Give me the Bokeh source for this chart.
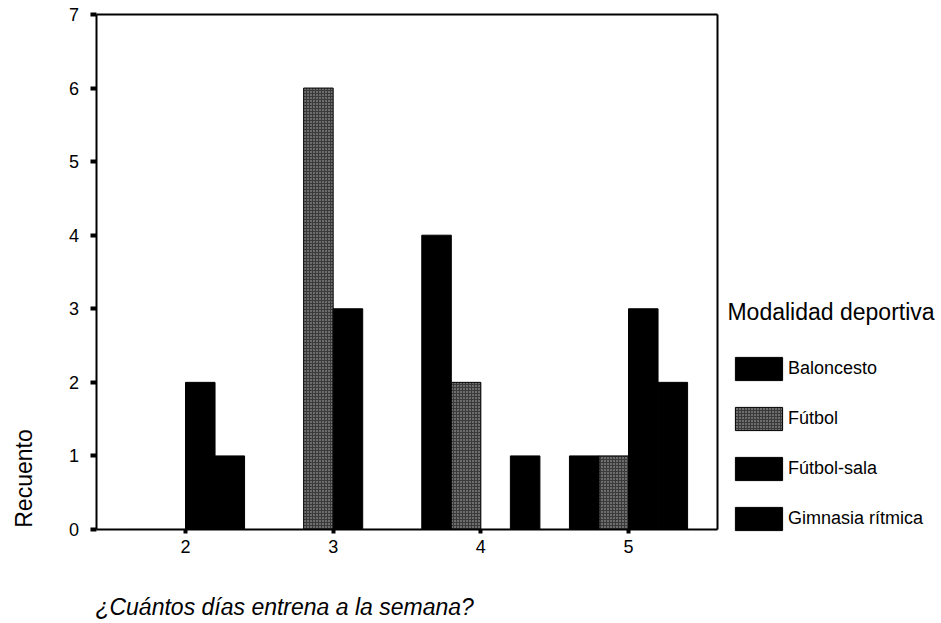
from bokeh.plotting import figure
from bokeh.models import (ColumnDataSource, Range1d, FixedTicker, Legend, LegendItem, Label,
                          LinearAxis)
from bokeh.transform import dodge
from bokeh.embed import file_html
from bokeh.resources import INLINE
import math

# ---- data ----
dias = [2, 3, 4, 5]
baloncesto = [0, 0, 4, 1]
futbol = [0, 6, 2, 1]
futbol_sala = [2, 3, 0, 3]
gimnasia = [1, 0, 1, 2]
series_names = ["Baloncesto", "Fútbol", "Fútbol-sala", "Gimnasia rítmica"]
y_ticks = [0, 1, 2, 3, 4, 5, 6, 7]

FONT = "Liberation Sans"

# plotting-area bounds (data units)
X0, X1 = 1.4, 5.6
Y0, Y1 = 0, 7

src = ColumnDataSource(dict(dias=dias, baloncesto=baloncesto, futbol=futbol,
                            futbol_sala=futbol_sala, gimnasia=gimnasia))

p = figure(width=941, height=623, x_range=Range1d(0.7472, 7.1195), y_range=Range1d(-1.2777, 7.190),
           x_axis_type=None, y_axis_type=None,
           output_backend="svg", toolbar_location=None,
           min_border_left=0, min_border_right=0, min_border_top=0, min_border_bottom=0)

p.xgrid.visible = False
p.ygrid.visible = False
p.outline_line_color = None
p.background_fill_color = "white"
p.border_fill_color = "white"

cols = ["baloncesto", "futbol", "futbol_sala", "gimnasia"]
offsets = [-0.3, -0.1, 0.1, 0.3]
renderers = []
for col, off in zip(cols, offsets):
    kw = dict(fill_color="black", line_color="black", line_width=1)
    if col == "futbol":
        kw = dict(fill_color="#3a3a3a", line_color="black", line_width=1,
                  hatch_pattern="dot", hatch_color="#b8b8b8", hatch_scale=3, hatch_weight=1)
    r = p.vbar(x=dodge("dias", off), top=col, width=0.2, bottom=0, source=src, **kw)
    renderers.append(r)


def style_axis(ax):
    ax.axis_line_color = "black"
    ax.axis_line_width = 2
    ax.major_tick_line_color = "black"
    ax.major_tick_line_width = 4
    ax.major_tick_in = 0
    ax.minor_tick_line_color = None
    ax.major_label_text_font = FONT
    ax.major_label_text_font_size = "18px"
    ax.major_label_text_color = "black"


xaxis = LinearAxis(fixed_location=Y0, bounds=(X0, X1), ticker=FixedTicker(ticks=dias))
style_axis(xaxis)
xaxis.major_tick_out = 4
xaxis.major_label_standoff = 7
p.add_layout(xaxis, "below")

yaxis = LinearAxis(fixed_location=X0, bounds=(Y0, Y1), ticker=FixedTicker(ticks=y_ticks))
style_axis(yaxis)
yaxis.major_tick_out = 6
yaxis.major_label_standoff = 12
p.add_layout(yaxis, "left")

top_axis = LinearAxis(fixed_location=Y1, bounds=(X0, X1), ticker=FixedTicker(ticks=[]))
style_axis(top_axis)
p.add_layout(top_axis, "above")

right_axis = LinearAxis(fixed_location=X1, bounds=(Y0, Y1), ticker=FixedTicker(ticks=[]))
style_axis(right_axis)
p.add_layout(right_axis, "right")

# legend
items = [LegendItem(label=n, renderers=[r]) for n, r in zip(series_names, renderers)]
legend = Legend(items=items, location=(729, 90), orientation="vertical",
                glyph_width=59, glyph_height=29, label_height=29, spacing=21,
                label_standoff=-4, padding=0, margin=0,
                border_line_color=None, background_fill_alpha=0,
                label_text_font=FONT, label_text_font_size="18px", label_text_color="black")
p.add_layout(legend, "center")

# legend title
p.add_layout(Label(x=5.670, y=2.950, text="Modalidad deportiva", text_font=FONT,
                   text_font_size="23px", text_align="left", text_baseline="middle",
                   text_color="black"))

# axis titles
p.add_layout(Label(x=0.9097, y=0.693, text="Recuento", angle=math.pi / 2,
                   text_font=FONT, text_font_size="23px", text_align="center",
                   text_baseline="middle", text_color="black"))
p.add_layout(Label(x=1.390, y=-1.060, text="¿Cuántos días entrena a la semana?",
                   text_font=FONT, text_font_size="23px", text_font_style="italic",
                   text_align="left", text_baseline="middle", text_color="black"))

open("out.html", "w").write(file_html(p, INLINE))
